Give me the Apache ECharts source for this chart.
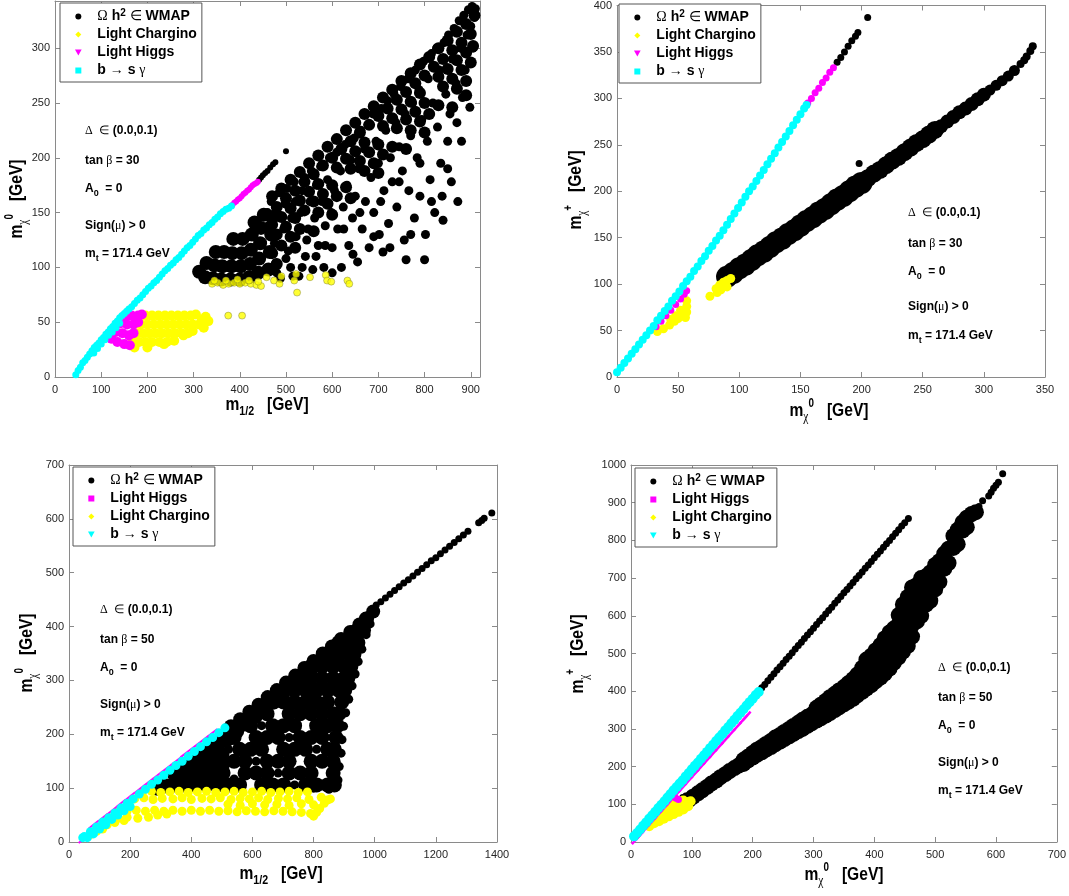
<!DOCTYPE html>
<html>
<head>
<meta charset="utf-8">
<title>m_chi scatter panels</title>
<script src="https://cdn.jsdelivr.net/npm/echarts@6.0.0/dist/echarts.min.js"></script>
<style>
  html, body { margin: 0; padding: 0; background: #fff; }
  #chart { width: 1069px; height: 896px; }
</style>
</head>
<body>
<div id="chart"></div>
<script>
// ---------- panel 1 (top left): m_chi0 vs m_1/2, tan b = 30 ----------
var tlWmapCore = [[312,96],[325,91],[328,104],[342,90],[345,102],[348,114],[360,89],[362,101],[366,114],[380,89],[382,101],[384,113],[386,126],[400,89],[402,101],[404,113],[406,126],[420,91],[422,103],[424,116],[426,130],[432,141],[440,95],[442,108],[444,122],[446,136],[452,148],[462,98],[465,114],[468,130],[470,146]];
var tlWmapRows = [[470,165],[490,172],[510,180],[530,187],[550,195],[570,202],[590,210],[610,217],[630,225],[650,232],[670,240],[690,247],[710,255],[730,262],[750,270],[770,277],[790,285],[810,292],[830,300],[850,307],[870,315],[890,322],[908,330],
  [480,155],[500,163],[520,170],[540,178],[560,185],[580,193],[600,200],[620,208],[640,215],[660,223],[680,230],[700,238],[720,245],[740,253],[760,260],[780,268],[800,275],[820,283],[840,290],[860,298],[880,305],[900,313],
  [470,139],[490,146],[510,154],[530,161],[550,169],[570,176],[610,191],[630,199],[650,206],[670,214],[710,229],[730,236],[750,244],[770,251],[790,259],[830,274],[850,281],[870,289],[890,296],[905,302],
  [480,130],[500,137],[520,145],[540,152],[560,160],[580,167],[600,175],[640,190],[660,197],[680,205],[700,212],[740,227],[760,235],[780,242],[800,250],[840,265],[860,272],[880,280],[900,287],
  [470,113],[490,120],[510,128],[530,135],[570,150],[590,158],[610,165],[630,173],[670,188],[690,195],[710,203],[730,210],[770,225],[790,233],[810,240],[830,248],[870,263],[890,270],
  [480,103],[520,118],[560,133],[600,148],[640,163],[700,186],[760,208],[800,223],[860,246],[890,257]];
var tlWmap = [[460,150],[462,138],[468,160],[475,122],[478,104],[480,150],[485,168],[488,90],[495,135],[498,158],[502,172],[505,115],[510,100],[512,145],[518,178],[520,160],[522,128],[528,92],
  [532,150],[535,170],[540,182],[542,110],[548,135],[552,160],[555,188],[558,98],[562,145],[566,175],[570,120],[575,192],[578,160],[582,100],[585,138],[590,180],[594,200],
  [598,150],[600,118],[605,170],[610,205],[612,135],[618,188],[620,100],[624,155],[628,212],[632,175],[636,120],[640,198],[644,145],[648,218],[650,165],[655,105],[658,190],[662,225],
  [665,135],[670,208],[672,160],[678,230],[680,118],[684,182],[688,240],[690,150],[695,215],[700,195],[702,130],[706,245],[710,114],[712,170],[716,225],[720,252],[722,140],[726,200],
  [730,178],[734,258],[738,232],[740,155],[745,210],[748,265],[752,188],[756,125],[758,240],[760,107],[764,272],[766,170],[770,220],[774,250],[778,145],[780,280],[784,200],[788,262],
  [790,165],[794,235],[798,288],[800,107],[802,130],[806,215],[808,272],[812,180],[815,295],[818,250],[822,150],[826,300],[828,228],[832,280],[835,195],[838,165],[840,143],[842,305],
  [846,258],[850,215],[852,312],[855,240],[858,178],[860,290],[864,318],[868,268],[870,232],[872,160],[875,325],[878,300],[882,255],[885,330],[888,280],[892,312],[895,335],[898,246],
  [900,320],[903,338],[905,300],[908,328],[910,336],
  [480,95],[500,108],[515,92],[535,100],[545,125],[565,110],[585,120],[600,95],[625,135],[645,112],[660,150],[690,128],[705,160],[725,118],[745,178],[770,130],[790,195],[815,160],[850,190],[880,215]];
var tlWmapLine = [[442,180],[446,182],[450,184],[455,186],[460,188],[466,191],[472,194],[477,196],[500,206]];
var tlCharginoFill = [[196,56],[210,56],[224,56],[238,56],[252,56],[266,56],[280,56],[294,56],
  [186,48],[200,48],[214,48],[228,48],[242,48],[256,48],[270,48],[284,48],[298,48],[312,48],
  [176,40],[190,40],[204,40],[218,40],[232,40],[246,40],[260,40],[274,40],[288,40],
  [168,32],[182,32],[196,32],[210,32],[226,32],[242,32],
  [172,27],[200,27],[236,30],[258,33],[278,38],[298,42],[318,52],[326,55],[332,51],[322,45],[305,57]];
var tlChargino = [[340,85],[352,86],[364,84],[376,85],[388,86],[400,85],[412,86],[424,85],[436,84],[446,83],[345,88],[370,88],[395,89],[420,88],[440,87],
  [458,91],[474,88],[486,85],[490,92],[518,88],[522,94],[524,77],[552,91],[586,93],[589,88],[598,87],[633,88],[637,85],[375,56],[405,56]];
var tlHiggsFill = [[122,35],[135,32],[150,30],[162,29],[132,41],[146,40],[160,38],[170,40],[142,49],[156,48],[170,48],[180,50],[152,55],[166,56],[180,56],[188,57]];
var tlHiggsLine = [[384,157],[388,159],[392,160],[396,162],[400,163],[404,165],[408,167],[412,168],[416,170],[420,171],[424,173],[428,175],[432,176],[436,177],[439,178]];
var tlBsg = [[45,2],[50,6],[55,9],[60,13],[65,15],[70,18],[75,21],[80,24],[85,27],[90,29],[95,31],[100,34],[105,36],[110,39],[115,41],[120,44],[125,46],[130,49],[135,51],[140,54],
  [145,56],[150,58],[155,60],[160,62],[166,64],[172,67],[178,70],[184,72],[190,75],[196,78],[202,81],[208,83],[214,86],[220,88],[226,91],[232,94],[238,97],[244,99],[250,102],
  [256,104],[262,107],[268,109],[274,112],[280,115],[286,118],[292,120],[298,123],[304,126],[310,129],[316,131],[322,134],[328,136],[334,139],[340,141],[346,144],[352,146],
  [358,149],[364,151],[370,153],[376,154],[382,156],
  [84,22],[92,26],[100,30],[108,34],[116,38],[124,41],[132,45],[140,49]];

// ---------- panel 2 (top right): m_chi+ vs m_chi0, tan b = 30 ----------
var trBandWide = [[90,108],[95,112],[100,117],[105,121],[110,126],[115,131],[120,135],[125,140],[130,145],[135,149],[140,154],[145,158],[150,163],[155,168],[160,172],[165,177],[170,181],[175,186],[180,191],[185,195],[190,200],[195,205],[200,209]];
var trBandMid = [[205,214],[210,219],[215,223],[220,228],[225,233],[230,237],[235,242],[240,247],[245,252],[250,256],[255,261],[260,266]];
var trBandThin = [[265,270],[270,275],[275,280],[280,285],[285,289],[290,294],[295,299],[300,304]];
var trBandThinner = [[305,309],[310,314],[315,319],[320,324],[325,330]];
var trBandEnd = [[330,337],[333,341],[335,345],[338,351],[340,356]];
var trWmapLine = [[180,339],[183,344],[186,350],[189,356],[192,362],[195,367],[197,371],[205,387],[198,230]];
var trChargino = [[33,49],[38,52],[43,56],[47,60],[50,63],[53,66],[56,64],[57,70],[57,76],[57,82],[52,72],[48,66],[44,62],
  [76,87],[81,95],[84,99],[87,102],[90,104],[93,106],[85,94],[90,97],[82,91]];
var trHiggs = [[32,54],[36,60],[40,66],[44,72],[48,78],[52,84],[55,89],[57,93]];
var trHiggsLine = [[156,295],[159,300],[162,306],[165,311],[168,317],[171,322],[174,328],[177,333]];
var trBsg = [[0,5],[3,10],[6,15],[9,20],[12,25],[15,30],[18,35],[21,40],[24,45],[27,50],[30,55],[33,61],[36,66],[39,71],[42,76],[45,82],[48,87],[51,92],[54,98],[57,103],
  [60,108],[63,114],[66,119],[69,125],[72,130],[75,136],[78,141],[81,147],[84,152],[87,158],[90,164],[93,170],[96,176],[99,182],[102,188],[105,194],[108,200],[111,205],
  [114,211],[117,217],[120,223],[123,229],[126,235],[129,241],[132,247],[135,253],[138,259],[141,265],[144,271],[147,277],[150,283],[153,289],[155,293]];

// ---------- panel 3 (bottom left): m_chi0 vs m_1/2, tan b = 50 ----------
var blWmapCore = [[290,100],[320,104],[350,108],[350,128],[380,108],[380,135],[410,108],[410,132],[410,155],[440,110],[440,135],[440,160],[470,110],[470,135],[470,160],[470,185],[500,112],[500,138],[500,163],[500,188]];
var blWmapBand = [[530,215],[560,228],[590,242],[620,255],[650,269],[680,282],[710,296],[740,309],[770,323],[800,336],[830,350],[860,363],[890,377],[920,390],[950,404],[975,415],[995,428],
  [520,190],[550,205],[580,218],[610,232],[640,246],[670,259],[700,273],[730,286],[760,300],[790,313],[820,327],[850,340],[880,355],[910,368],[940,380],[965,393]];
var blWmapFill = [[290,106],[306,106],[342,106],[378,106],[414,106],[450,106],[486,106],[522,106],[558,106],[630,106],[666,106],[702,106],[774,106],[810,106],[846,106],[868,106],
  [342,128],[360,128],[396,128],[432,128],[468,128],[504,128],[576,128],[612,128],[648,128],[720,128],[756,128],[792,128],[864,128],
  [396,150],[432,150],[468,150],[504,150],[540,150],[576,150],[648,150],[684,150],[720,150],[792,150],[828,150],[864,150],
  [450,172],[486,172],[558,172],[594,172],[630,172],[702,172],[738,172],[774,172],[846,172],[868,172],
  [504,194],[540,194],[612,194],[648,194],[684,194],[756,194],[792,194],[828,194],[873,194],
  [558,216],[594,216],[666,216],[702,216],[738,216],[810,216],[846,216],[878,216],
  [612,238],[648,238],[720,238],[756,238],[792,238],[828,238],[864,238],[883,238],
  [666,260],[702,260],[738,260],[774,260],[810,260],[846,260],[892,260],
  [702,282],[738,282],[774,282],[810,282],[846,282],[882,282],[902,282],
  [756,304],[792,304],[828,304],[864,304],[900,304],[912,304],
  [792,326],[828,326],[864,326],[900,326],[922,326],
  [846,348],[882,348],[918,348],[932,348],
  [882,370],[918,370],[945,370],[940,392],[958,392],[972,414]];
var blWmap = [[880,115],[884,140],[890,165],[893,190],[898,215],[905,240],[915,265],[926,290],[936,312],[946,335],[958,358],[972,385],[985,405],[995,425],
  [860,112],[850,98],[800,100],[720,102],[640,100],
  [540,117],[738,106],[684,128],[612,150],[522,172],[810,172],[720,194],[630,216],[860,225],[800,270],[870,300]];
var blWmapLine = [[1005,440],[1020,446],[1035,453],[1050,460],[1065,467],[1080,474],[1095,481],[1110,487],[1125,494],[1140,501],[1155,508],[1170,515],[1185,522],[1200,528],
  [1215,535],[1230,542],[1245,549],[1260,556],[1275,563],[1290,570],[1305,577],[1340,593],[1350,597],[1358,601],[1383,611]];
var blChargino = [[240,93],[270,94],[300,92],[330,93],[360,94],[390,92],[420,93],[450,94],[480,92],[510,93],[540,94],[570,92],[600,93],[630,94],[660,92],[690,93],[720,94],[750,92],[780,93],
  [215,80],[245,82],[275,79],[305,81],[340,80],[370,82],[400,79],[435,81],[465,80],[495,82],[530,79],[560,81],[590,80],[620,82],[650,79],[685,81],[715,80],[745,82],[785,79],[825,83],[855,80],
  [520,70],[560,68],[600,71],[640,69],[680,70],[720,68],[760,71],[800,69],[835,72],
  [160,58],[190,57],[220,59],[250,57],[280,59],[310,57],[340,59],[370,57],[400,59],[430,57],[460,59],[490,57],[520,58],[550,56],[580,58],[610,57],[640,56],[670,58],[700,57],[730,56],[760,55],[790,53],
  [130,45],[160,44],[190,46],[225,44],[260,46],[290,50],[320,52],
  [100,28],[125,32],[150,36],[180,40],[70,14],[90,20],[110,24],
  [800,48],[810,55],[845,78],[820,62]];
var blHiggs = [[47,5],[60,15],[80,32],[110,45],[140,58],[170,72],[200,85],[230,98],[260,111],[290,124],[320,137],[350,150],[380,164],[410,177],[440,190],[470,203]];
var blBsg = [[45,8],[50,10],[70,19],[90,28],[110,37],[130,45],[150,54],[170,63],[190,72],[210,80],[230,89],[250,98],[270,107],[290,115],[310,124],[330,133],[350,142],[370,150],[390,159],
  [410,168],[430,177],[450,186],[470,194],[490,203],[510,212],
  [60,8],[80,15],[100,24],[120,32],[140,42],[160,50],[180,58],[200,66]];

// ---------- panel 4 (bottom right): m_chi+ vs m_chi0, tan b = 50 ----------
var brWmapBand = [[95,111],[110,129],[125,146],[140,163],[155,180],[170,196],[185,207],[185,218],[200,224],[200,236],[215,238],[215,252],[230,252],[230,268],
  [245,266],[245,284],[260,280],[260,300],[275,294],[275,316],[290,308],[290,332],[305,322],[305,344],[305,356],[320,335],[320,356],[320,374],
  [335,350],[335,372],[335,393],[350,365],[350,388],[350,411],[365,380],[365,405],[365,432],[380,398],[380,422],[380,446],[380,462],
  [395,416],[395,442],[395,468],[395,494],[410,436],[410,462],[410,490],[410,522],[425,460],[425,488],[425,518],[425,556],
  [440,490],[440,518],[440,548],[440,578],[440,602],[455,520],[455,548],[455,580],[455,615],[455,650],
  [470,585],[470,612],[470,645],[470,682],[485,630],[485,660],[485,705],[500,670],[500,700],[500,735],
  [515,725],[515,765],[530,780],[530,812],[545,826],[545,848],[560,870],
  [102,120],[117,137],[132,155],[147,172],[162,188],[177,203],[192,216],[192,226],[207,231],[207,245],[222,245],[222,260],[237,259],[237,277],
  [252,273],[252,292],[267,287],[267,308],[282,300],[282,324],[297,315],[297,338],[312,328],[312,350],[312,364],[327,342],[327,366],[327,384],
  [342,357],[342,380],[342,402],[357,372],[357,396],[357,421],[372,389],[372,414],[372,444],[387,407],[387,432],[387,458],[387,484],
  [402,426],[402,452],[402,479],[402,508],[417,447],[417,475],[417,504],[417,540],[432,475],[432,503],[432,533],[432,566],
  [447,505],[447,533],[447,565],[447,598],[447,630],[462,545],[462,575],[462,610],[462,648],[462,675],[477,600],[477,630],[477,665],[477,700],
  [492,640],[492,675],[492,715],[507,690],[507,725],[507,745],[522,740],[522,778],[537,790],[537,828],[552,835],[552,860],[567,875]];
var brWmap = [[572,890],[578,905],[588,918],[592,928],[596,938],[600,946],[604,954],[611,977],[85,118],[90,122]];
var brWmapLine = [[210,400],[215,409],[220,418],[225,428],[230,437],[235,446],[240,456],[245,465],[250,474],[255,484],[260,493],[265,502],[270,512],[275,521],[280,530],
  [285,540],[290,549],[295,558],[300,567],[305,577],[310,586],[315,595],[320,605],[325,614],[330,623],[335,633],[340,642],[345,651],[350,661],[355,670],[360,679],
  [365,688],[370,698],[375,707],[380,716],[385,726],[390,735],[395,744],[400,754],[405,763],[410,772],[415,782],[420,791],[425,800],[430,810],[435,819],[440,828],
  [445,838],[450,847],[456,858]];
var brChargino = [[30,42],[38,50],[38,60],[46,55],[46,68],[54,62],[54,78],[62,68],[62,86],[62,100],[70,74],[70,90],[70,105],[78,80],[78,95],[78,108],[86,86],[86,100],[86,110],[94,95],[94,106],[98,108]];
var brHiggs = [[8,6],[15,18],[25,37],[35,55],[45,73],[55,91],[65,109],[75,127],[85,145],[95,163],[105,181],[115,199],[125,217],[135,235],[145,253],[155,271],[165,289],[175,307],[185,325],[190,334]];
var brHiggsBlob = [[74,116],[78,113]];
var brBsg = [[5,15],[10,24],[15,33],[20,43],[25,52],[30,62],[35,71],[40,80],[45,90],[50,99],[55,108],[60,118],[65,127],[70,137],[75,146],[80,155],[85,164],[90,174],[95,183],[100,193],
  [105,202],[110,211],[115,221],[120,230],[125,239],[130,249],[135,258],[140,268],[145,277],[150,286],[155,296],[160,305],[165,315],[170,324],[175,334],[180,343],[185,352],
  [190,362],[195,371],[200,380],[205,390],[210,398]];

// axis ranges and tick steps per panel
var axisRanges = [
  { x: [0, 920, 100], y: [0, 343, 50] },
  { x: [0, 350, 50], y: [0, 400, 50] },
  { x: [0, 1400, 200], y: [0, 700, 100] },
  { x: [0, 700, 100], y: [0, 1000, 100] }
];

var SANS = 'Liberation Sans, Arial, Helvetica, sans-serif';
var SERIF = 'Liberation Serif, Times New Roman, serif';
var BLACK = '#000000', YELLOW = '#ffff00', MAGENTA = '#ff00ff', CYAN = '#00ffff';
var TRI_DOWN = 'path://M0,0L10,0L5,9Z';
var DIAMOND = 'path://M5,0L10,5L5,10L0,5Z';
var SQUARE = 'path://M0,0L10,0L10,10L0,10Z';

var grids = [
  { left: 55, top: 1, width: 425, height: 376 },
  { left: 617, top: 1, width: 428, height: 376 },
  { left: 69, top: 465, width: 428, height: 377 },
  { left: 631, top: 465, width: 428, height: 377 }
];

function makeAxis(g, r, pos, labels) {
  return {
    type: 'value', gridIndex: g, position: pos,
    min: r[0], max: r[1], interval: r[2],
    axisLine: { show: true, onZero: false, lineStyle: { color: '#8a8a8a', width: 1 } },
    axisTick: { show: true, inside: true, length: 5, lineStyle: { color: '#8a8a8a' } },
    axisLabel: labels ? {
      show: true, color: '#262626', fontSize: 11, fontFamily: SANS, margin: (pos === 'bottom' ? 7 : 5),
      formatter: function (v) { return v % r[2] === 0 ? String(v) : ''; }
    } : { show: false },
    splitLine: { show: false }
  };
}

var xAxes = [], yAxes = [];
axisRanges.forEach(function (r, g) {
  xAxes.push(makeAxis(g, r.x, 'bottom', true));
  xAxes.push(makeAxis(g, r.x, 'top', false));
  yAxes.push(makeAxis(g, r.y, 'left', true));
  yAxes.push(makeAxis(g, r.y, 'right', false));
});

function pts(name, g, data, color, size, extra) {
  var s = {
    name: name, type: 'scatter', xAxisIndex: g * 2, yAxisIndex: g * 2,
    data: data, symbol: 'circle', symbolSize: size,
    itemStyle: { color: color, opacity: 1 },
    emphasis: { disabled: true }, silent: true
  };
  if (extra) { for (var k in extra) s[k] = extra[k]; }
  return s;
}

var series = [
  // top left
  pts('WMAP', 0, tlWmapCore, BLACK, 14),
  pts('WMAP', 0, tlWmapRows, BLACK, 12),
  pts('WMAP', 0, tlWmap, BLACK, 9),
  pts('WMAP', 0, tlWmapLine, BLACK, 6),
  pts('Light Chargino', 0, tlCharginoFill, YELLOW, 10),
  pts('Light Chargino', 0, tlChargino, YELLOW, 7, { itemStyle: { color: YELLOW, borderColor: '#6b6b3a', borderWidth: 0.5 } }),
  pts('Light Higgs', 0, tlHiggsFill, MAGENTA, 10),
  pts('Light Higgs', 0, tlHiggsLine, MAGENTA, 6),
  pts('bsg', 0, tlBsg, CYAN, 7),
  // top right
  pts('WMAP', 1, trBandWide, BLACK, 22),
  pts('WMAP', 1, trBandMid, BLACK, 18),
  pts('WMAP', 1, trBandThin, BLACK, 14),
  pts('WMAP', 1, trBandThinner, BLACK, 11),
  pts('WMAP', 1, trBandEnd, BLACK, 8),
  pts('WMAP', 1, trWmapLine, BLACK, 7),
  pts('Light Chargino', 1, trChargino, YELLOW, 9),
  pts('Light Higgs', 1, trHiggs, MAGENTA, 7),
  pts('Light Higgs', 1, trHiggsLine, MAGENTA, 7),
  pts('bsg', 1, trBsg, CYAN, 8),
  // bottom left
  pts('WMAP', 2, blWmapCore, BLACK, 15),
  pts('WMAP', 2, blWmapBand, BLACK, 14),
  pts('WMAP', 2, blWmapFill, BLACK, 15),
  pts('WMAP', 2, blWmap, BLACK, 9),
  pts('WMAP', 2, blWmapLine, BLACK, 7),
  pts('Light Chargino', 2, blChargino, YELLOW, 9),
  pts('Light Higgs', 2, blHiggs, MAGENTA, [12, 2], { symbol: 'rect', symbolRotate: 38 }),
  pts('bsg', 2, blBsg, CYAN, 9),
  // bottom right
  pts('WMAP', 3, brWmapBand, BLACK, 16),
  pts('WMAP', 3, brWmap, BLACK, 7),
  pts('WMAP', 3, brWmapLine, BLACK, 7),
  pts('Light Chargino', 3, brChargino, YELLOW, 10),
  pts('Light Higgs', 3, brHiggs, MAGENTA, [12, 2.5], { symbol: 'rect', symbolRotate: 48 }),
  pts('Light Higgs', 3, brHiggsBlob, MAGENTA, 7),
  pts('bsg', 3, brBsg, CYAN, 10)
];

var legendLabels = {
  'WMAP': '{g|Ω} {t|h}{sup|2} {g|∈} {t|WMAP}',
  'Light Chargino': '{t|Light Chargino}',
  'Light Higgs': '{t|Light Higgs}',
  'bsg': '{t|b} {g|→} {t|s} {g|γ}'
};

function legendFor(left, top, order, icons) {
  return {
    orient: 'vertical', left: left, top: top,
    data: order.map(function (n, k) { return { name: n, icon: icons[k] }; }),
    itemWidth: 28, itemHeight: 6, itemGap: 1,
    symbolKeepAspect: true,
    padding: [5, 5, 3, 15],
    borderColor: '#555', borderWidth: 1, backgroundColor: '#fff',
    selectedMode: false,
    formatter: function (n) { return legendLabels[n]; },
    textStyle: {
      fontSize: 14, fontWeight: 'bold', fontFamily: SANS, color: '#000', lineHeight: 17,
      rich: {
        t: { fontSize: 14, fontWeight: 'bold', fontFamily: SANS, color: '#000', lineHeight: 17 },
        g: { fontSize: 14, fontWeight: 'normal', fontFamily: SERIF, color: '#000', lineHeight: 17 },
        sup: { fontSize: 10, fontWeight: 'bold', fontFamily: SANS, color: '#000', lineHeight: 10, verticalAlign: 'top' }
      }
    }
  };
}

var orderA = ['WMAP', 'Light Chargino', 'Light Higgs', 'bsg'];
var iconsA = ['circle', DIAMOND, TRI_DOWN, SQUARE];
var orderB = ['WMAP', 'Light Higgs', 'Light Chargino', 'bsg'];
var iconsB = ['circle', SQUARE, DIAMOND, TRI_DOWN];

var noteRich = {
  b: { fontSize: 12, fontWeight: 'bold', fontFamily: SANS, color: '#000', lineHeight: 18 },
  g: { fontSize: 12, fontWeight: 'normal', fontFamily: SERIF, color: '#000', lineHeight: 18 },
  sub: { fontSize: 9, fontWeight: 'bold', fontFamily: SANS, color: '#000', lineHeight: 9, verticalAlign: 'bottom' }
};

function note(x, y, text) {
  return {
    type: 'text', x: x, y: y, silent: true,
    style: { text: text, rich: noteRich, fontSize: 12, fontFamily: SANS, fill: '#000', align: 'left', verticalAlign: 'middle' }
  };
}

function noteBlock(x, ys, tanb) {
  return [
    note(x, ys[0], '{g|Δ}  {g|∈} {b|(0.0,0.1)}'),
    note(x, ys[1], '{b|tan }{g|β}{b| = ' + tanb + '}'),
    note(x, ys[2], '{b|A}{sub|0}{b|  = 0}'),
    note(x, ys[3], '{b|Sign(}{g|μ}{b|) > 0}'),
    note(x, ys[4], '{b|m}{sub|t}{b| = 171.4 GeV}')
  ];
}

var titleRich = {
  m: { fontSize: 19, fontWeight: 'bold', fontFamily: SANS, color: '#000', lineHeight: 26 },
  sub: { fontSize: 13, fontWeight: 'bold', fontFamily: SANS, color: '#000', lineHeight: 12, verticalAlign: 'bottom' },
  gsub: { fontSize: 14, fontWeight: 'normal', fontFamily: SERIF, color: '#000', lineHeight: 12, verticalAlign: 'bottom' },
  sup: { fontSize: 12, fontWeight: 'bold', fontFamily: SANS, color: '#000', lineHeight: 11, verticalAlign: 'top' }
};

// axis titles are narrow in the original, so squeeze them along the reading direction
function axisTitle(x, y, text, vertical) {
  return {
    type: 'text', x: x, y: y, rotation: vertical ? Math.PI / 2 : 0, scaleX: 0.82, silent: true,
    style: { text: text, rich: titleRich, fontSize: 19, fontFamily: SANS, fill: '#000', align: 'center', verticalAlign: 'middle' }
  };
}

var graphics = []
  .concat(noteBlock(85, [131, 161, 189, 226, 254], 30))
  .concat(noteBlock(908, [213, 244, 272, 307, 336], 30))
  .concat(noteBlock(100, [610, 640, 668, 705, 733], 50))
  .concat(noteBlock(938, [668, 698, 726, 763, 791], 50))
  .concat([
    axisTitle(267, 405, '{m|m}{sub|1/2}{m|   [GeV]}', false),
    axisTitle(17, 199, '{m|m}{gsub|χ}{sup|0}{m|   [GeV]}', true),
    axisTitle(829, 411, '{m|m}{gsub|χ}{sup|0}{m|   [GeV]}', false),
    axisTitle(576, 190, '{m|m}{gsub|χ}{sup|+}{m|   [GeV]}', true),
    axisTitle(281, 874, '{m|m}{sub|1/2}{m|   [GeV]}', false),
    axisTitle(27, 653, '{m|m}{gsub|χ}{sup|0}{m|   [GeV]}', true),
    axisTitle(844, 875, '{m|m}{gsub|χ}{sup|0}{m|   [GeV]}', false),
    axisTitle(578, 654, '{m|m}{gsub|χ}{sup|+}{m|   [GeV]}', true)
  ]);

var chart = echarts.init(document.getElementById('chart'), null, { renderer: 'canvas' });
chart.setOption({
  animation: false,
  backgroundColor: '#ffffff',
  grid: grids,
  xAxis: xAxes,
  yAxis: yAxes,
  legend: [
    legendFor(60, 3, orderA, iconsA),
    legendFor(619, 4, orderA, iconsA),
    legendFor(73, 467, orderB, iconsB),
    legendFor(635, 468, orderB, iconsB)
  ],
  graphic: graphics,
  series: series
});
</script>
</body>
</html>
